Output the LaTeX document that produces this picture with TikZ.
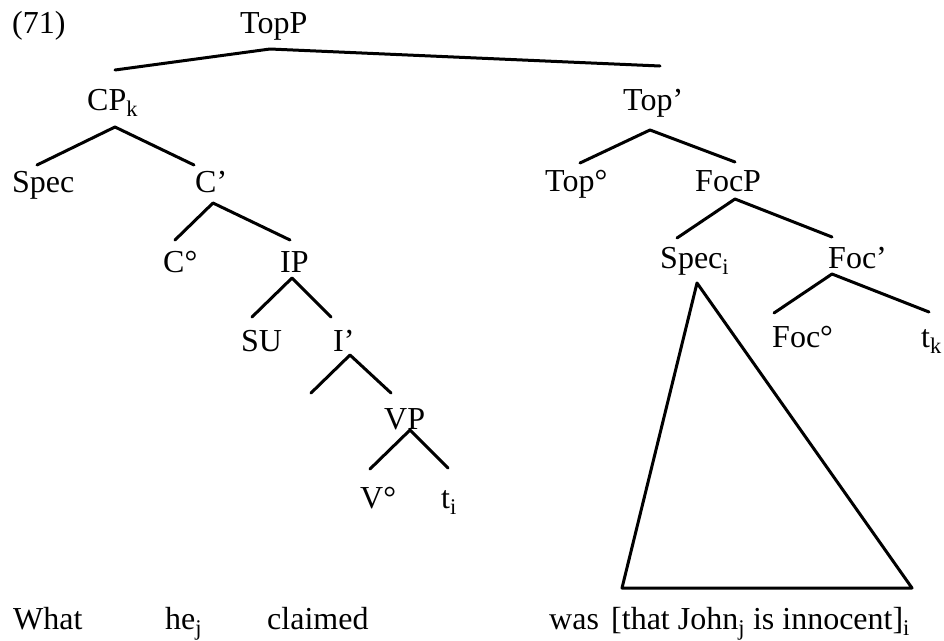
\documentclass[tikz,border=0pt]{standalone}
\usepackage{fontspec}
\setmainfont{Liberation Serif}
\begin{document}
\begin{tikzpicture}[x=1pt,y=-1pt,
  lbl/.style={anchor=base west,inner sep=0pt,font=\fontsize{32}{34}\selectfont},
  branch/.style={line width=3pt,line cap=round,line join=round}]
\useasboundingbox (0,0) rectangle (944,640);

% labels
\node[lbl] (ex) at (12,33) {(71)};
\node[lbl] (TopP) at (240,33) {TopP};
\node[lbl] (CP) at (87,110) {CP\textsubscript{k}};
\node[lbl] (Topbar) at (623,110) {Top’};
\node[lbl] (Spec) at (12,192) {Spec};
\node[lbl] (Cbar) at (195,192) {C’};
\node[lbl] (TopO) at (545,191) {Top°};
\node[lbl] (FocP) at (695,191) {FocP};
\node[lbl] (CO) at (163,272) {C°};
\node[lbl] (IP) at (280,272) {IP};
\node[lbl] (Speci) at (660,268) {Spec\textsubscript{i}};
\node[lbl] (Focbar) at (828,268) {Foc’};
\node[lbl] (SU) at (241,351) {SU};
\node[lbl] (Ibar) at (333,351) {I’};
\node[lbl] (FocO) at (772,347) {Foc°};
\node[lbl] (tk) at (921,347) {t\textsubscript{k}};
\node[lbl] (VP) at (384,429) {VP};
\node[lbl] (VO) at (360,508) {V°};
\node[lbl] (ti) at (441,508) {t\textsubscript{i}};

% the sentence
\node[lbl] (w1) at (13,629) {What};
\node[lbl] (w2) at (165,629) {he\textsubscript{j}};
\node[lbl] (w3) at (267,629) {claimed};
\node[lbl] (w4) at (549,629) {was};
\node[lbl] (w5) at (611,629) {[that John\textsubscript{j} is innocent]\textsubscript{i}};

% branch points
\coordinate (topA) at (270,49);  \coordinate (topL) at (115,70);  \coordinate (topR) at (660,66);
\coordinate (cpA) at (115,127);  \coordinate (cpL) at (37,165);   \coordinate (cpR) at (194,165);
\coordinate (cbA) at (213,203);  \coordinate (cbL) at (175,240);  \coordinate (cbR) at (290,240);
\coordinate (ipA) at (292,278);  \coordinate (ipL) at (252,317);  \coordinate (ipR) at (331,317);
\coordinate (ibA) at (350,355);  \coordinate (ibL) at (311,393);  \coordinate (ibR) at (391,393);
\coordinate (vpA) at (410,430);  \coordinate (vpL) at (370,469);  \coordinate (vpR) at (448,468);
\coordinate (tbA) at (650,130);  \coordinate (tbL) at (580,163);  \coordinate (tbR) at (735,162);
\coordinate (fpA) at (735,199);  \coordinate (fpL) at (677,238);  \coordinate (fpR) at (832,237);
\coordinate (fbA) at (832,274);  \coordinate (fbL) at (774,313);  \coordinate (fbR) at (929,312);
\coordinate (triA) at (697,283); \coordinate (triL) at (622,588); \coordinate (triR) at (912,588);

% branches
\draw[branch] (topL) -- (topA) -- (topR);
\draw[branch] (cpL) -- (cpA) -- (cpR);
\draw[branch] (cbL) -- (cbA) -- (cbR);
\draw[branch] (ipL) -- (ipA) -- (ipR);
\draw[branch] (ibL) -- (ibA) -- (ibR);
\draw[branch] (vpL) -- (vpA) -- (vpR);
\draw[branch] (tbL) -- (tbA) -- (tbR);
\draw[branch] (fpL) -- (fpA) -- (fpR);
\draw[branch] (fbL) -- (fbA) -- (fbR);
\draw[branch] (triA) -- (triL) -- (triR) -- cycle;
\end{tikzpicture}
\end{document}
